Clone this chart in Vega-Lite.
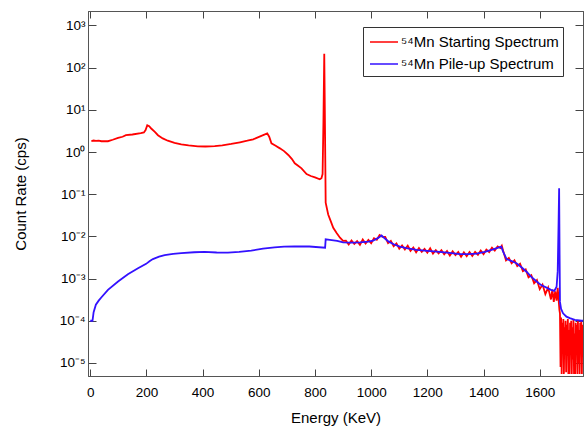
{
  "$schema": "https://vega.github.io/schema/vega-lite/v6.json",
  "width": 495,
  "height": 365,
  "autosize": "none",
  "padding": {"left": 88, "top": 11, "right": 1, "bottom": 53},
  "background": "white",
  "config": {
    "font": "Liberation Sans",
    "view": {"stroke": "#555", "strokeWidth": 1},
    "axis": {"grid": false, "domainColor": "#555", "tickColor": "#444", "labelColor": "black", "titleColor": "black", "labelFont": "Liberation Sans", "titleFont": "Liberation Sans", "titleFontWeight": "normal", "labelFontSize": 13.5, "titleFontSize": 15}
  },
  "datasets": {
    "red": [
      {"E":4,"r":1.82},{"E":12,"r":1.87},{"E":20,"r":1.83},{"E":30,"r":1.86},{"E":40,"r":1.8},{"E":63,"r":1.8},{"E":80,"r":1.95},{"E":99,"r":2.15},{"E":115,"r":2.3},{"E":127,"r":2.5},{"E":150,"r":2.6},{"E":180,"r":2.8},{"E":191,"r":2.9},{"E":197,"r":3.3},{"E":203,"r":4.3},{"E":210,"r":4.1},{"E":217,"r":3.6},{"E":230,"r":3.0},{"E":241,"r":2.5},{"E":258,"r":2.1},{"E":276,"r":1.85},{"E":300,"r":1.65},{"E":324,"r":1.52},{"E":350,"r":1.43},{"E":383,"r":1.36},{"E":410,"r":1.35},{"E":443,"r":1.38},{"E":470,"r":1.44},{"E":502,"r":1.55},{"E":533,"r":1.7},{"E":559,"r":1.85},{"E":580,"r":2.0},{"E":605,"r":2.35},{"E":630,"r":2.77},{"E":637,"r":2.3},{"E":645,"r":1.6},{"E":660,"r":1.4},{"E":675,"r":1.22},{"E":690,"r":1.05},{"E":705,"r":0.85},{"E":718,"r":0.68},{"E":728,"r":0.54},{"E":740,"r":0.47},{"E":752,"r":0.41},{"E":770,"r":0.30},{"E":785,"r":0.27},{"E":800,"r":0.25},{"E":817,"r":0.225},{"E":823,"r":0.24},{"E":827,"r":0.30},{"E":830,"r":5},{"E":833,"r":214},{"E":835,"r":10},{"E":838,"r":0.063},{"E":847,"r":0.033},{"E":855,"r":0.024},{"E":865,"r":0.016},{"E":877,"r":0.012},{"E":889,"r":0.0093},{"E":900,"r":0.0078},
      {"E":910,"r":0.0079},{"E":920,"r":0.0064},{"E":930,"r":0.0080},{"E":940,"r":0.0066},{"E":950,"r":0.0077},{"E":960,"r":0.0063},{"E":970,"r":0.0084},{"E":980,"r":0.0068},{"E":990,"r":0.00825},{"E":1000,"r":0.0069},{"E":1010,"r":0.0090},{"E":1020,"r":0.0083},{"E":1030,"r":0.0108},{"E":1040,"r":0.0098},{"E":1050,"r":0.0097},{"E":1060,"r":0.0069},{"E":1070,"r":0.0078},{"E":1080,"r":0.00585},{"E":1090,"r":0.0068},{"E":1100,"r":0.0051},{"E":1110,"r":0.0061},{"E":1120,"r":0.0049},{"E":1130,"r":0.0060},{"E":1140,"r":0.00455},{"E":1150,"r":0.00545},{"E":1160,"r":0.0042},{"E":1170,"r":0.0053},{"E":1180,"r":0.0043},{"E":1190,"r":0.00505},{"E":1200,"r":0.0041},{"E":1210,"r":0.0052},{"E":1220,"r":0.0039},{"E":1230,"r":0.0047},{"E":1240,"r":0.00395},{"E":1250,"r":0.0047},{"E":1260,"r":0.00375},{"E":1270,"r":0.0045},{"E":1280,"r":0.0035},{"E":1290,"r":0.0044},{"E":1300,"r":0.0036},{"E":1310,"r":0.00425},{"E":1320,"r":0.00327},{"E":1330,"r":0.0042},{"E":1340,"r":0.0034},{"E":1350,"r":0.00425},{"E":1360,"r":0.00345},{"E":1370,"r":0.0043},{"E":1380,"r":0.00365},{"E":1390,"r":0.0046},{"E":1400,"r":0.0038},{"E":1410,"r":0.00485},{"E":1420,"r":0.00425},{"E":1430,"r":0.0054},{"E":1440,"r":0.0046},{"E":1450,"r":0.0058},{"E":1460,"r":0.0053},{"E":1465,"r":0.0060},{"E":1470,"r":0.0045},{"E":1480,"r":0.0027},{"E":1490,"r":0.0031},{"E":1500,"r":0.0023},{"E":1510,"r":0.0027},{"E":1520,"r":0.00198},{"E":1530,"r":0.00225},{"E":1540,"r":0.0015},{"E":1550,"r":0.00165},{"E":1560,"r":0.00107},{"E":1570,"r":0.0012},{"E":1580,"r":0.00077},{"E":1590,"r":0.00092},{"E":1600,"r":0.00056},{"E":1610,"r":0.00072},{"E":1620,"r":0.00043},{"E":1630,"r":0.00061},{"E":1640,"r":0.00032},{"E":1645,"r":0.00055},{"E":1650,"r":0.00028},{"E":1655,"r":0.0005},{"E":1660,"r":0.0003},{"E":1664,"r":0.0006},{"E":1670,"r":0.00018},
      {"E":1672,"r":0.00015},{"E":1674,"r":0.000008},{"E":1676,"r":0.00012},{"E":1678,"r":0.0000055},{"E":1680,"r":0.00009},{"E":1682,"r":0.00002},{"E":1684,"r":0.00011},{"E":1686,"r":0.0000055},{"E":1688,"r":0.00007},{"E":1690,"r":0.00003},{"E":1692,"r":0.0001},{"E":1694,"r":0.000006},{"E":1696,"r":0.00008},{"E":1698,"r":0.000015},{"E":1700,"r":0.00011},{"E":1702,"r":0.0000055},{"E":1704,"r":0.00006},{"E":1706,"r":0.0000055},{"E":1708,"r":0.00009},{"E":1710,"r":0.000025},{"E":1712,"r":0.0001},{"E":1714,"r":0.0000055},{"E":1716,"r":0.00007},{"E":1718,"r":0.000012},{"E":1720,"r":0.000105},{"E":1722,"r":0.0000055},{"E":1724,"r":0.00005},{"E":1726,"r":0.0000055},{"E":1728,"r":0.00009},{"E":1730,"r":0.00002},{"E":1732,"r":0.00008},{"E":1734,"r":0.0000055},{"E":1736,"r":0.0001},{"E":1738,"r":0.00001},{"E":1740,"r":0.00006},{"E":1742,"r":0.0000055},{"E":1744,"r":0.00009},{"E":1746,"r":0.00003},{"E":1748,"r":0.0001},{"E":1750,"r":0.0000055},{"E":1752,"r":0.00008},{"E":1754,"r":0.000015}
    ],
    "blue": [
      {"E":0,"r":0.0001},{"E":8,"r":0.0001},{"E":12,"r":0.00016},{"E":20,"r":0.00024},{"E":30,"r":0.0003},{"E":40,"r":0.00036},{"E":63,"r":0.00054},{"E":99,"r":0.00085},{"E":134,"r":0.00126},{"E":170,"r":0.00175},{"E":199,"r":0.00223},{"E":212,"r":0.0026},{"E":223,"r":0.0029},{"E":245,"r":0.0033},{"E":265,"r":0.0036},{"E":295,"r":0.00385},{"E":324,"r":0.004},{"E":370,"r":0.0042},{"E":407,"r":0.0043},{"E":450,"r":0.00415},{"E":490,"r":0.0041},{"E":530,"r":0.0043},{"E":573,"r":0.0046},{"E":615,"r":0.0051},{"E":656,"r":0.0055},{"E":690,"r":0.0057},{"E":727,"r":0.0058},{"E":780,"r":0.00575},{"E":836,"r":0.0054},{"E":838,"r":0.0085},{"E":853,"r":0.0083},{"E":879,"r":0.0078},{"E":900,"r":0.0072},{"E":930,"r":0.0071},{"E":960,"r":0.0072},{"E":990,"r":0.0075},{"E":1007,"r":0.0079},{"E":1025,"r":0.0092},{"E":1037,"r":0.0105},{"E":1048,"r":0.009},{"E":1061,"r":0.0076},{"E":1080,"r":0.0065},{"E":1102,"r":0.0057},{"E":1130,"r":0.0052},{"E":1162,"r":0.0048},{"E":1200,"r":0.00455},{"E":1233,"r":0.00435},{"E":1270,"r":0.0041},{"E":1316,"r":0.0038},{"E":1345,"r":0.0038},{"E":1375,"r":0.0039},{"E":1405,"r":0.0043},{"E":1434,"r":0.0049},{"E":1455,"r":0.0055},{"E":1463,"r":0.0057},{"E":1470,"r":0.0043},{"E":1482,"r":0.0029},{"E":1500,"r":0.0026},{"E":1517,"r":0.0023},{"E":1535,"r":0.00185},{"E":1553,"r":0.00145},{"E":1570,"r":0.0011},{"E":1589,"r":0.00085},{"E":1605,"r":0.0007},{"E":1624,"r":0.00061},{"E":1640,"r":0.00054},{"E":1652,"r":0.00051},{"E":1660,"r":0.00064},{"E":1664,"r":0.0015},{"E":1667,"r":0.02},{"E":1669,"r":0.138},{"E":1670.5,"r":0.005},{"E":1672,"r":0.00028},{"E":1676,"r":0.00019},{"E":1683,"r":0.00015},{"E":1695,"r":0.000125},{"E":1707,"r":0.000115},{"E":1725,"r":0.000105},{"E":1749,"r":0.0001},{"E":1754,"r":0.0001}
    ]
  },
  "resolve": {"axis": {"x": "independent", "y": "independent"}},
  "layer": [
    {
      "data": {"name": "red"},
      "mark": {"type": "line", "strokeWidth": 1.8, "clip": true, "interpolate": "linear"},
      "encoding": {
        "x": {"field": "E", "type": "quantitative", "scale": {"domain": [-8, 1754], "nice": false, "zero": false},
          "axis": {"orient": "bottom", "title": "Energy (KeV)", "format": "d", "values": [0,200,400,600,800,1000,1200,1400,1600], "tickSize": -7, "labelPadding": 16, "titleY": 46, "titleBaseline": "alphabetic", "labelFlush": false}},
        "y": {"field": "r", "type": "quantitative", "scale": {"type": "log", "domain": [0.0000049, 2200], "nice": false},
          "axis": {"orient": "left", "title": "Count Rate (cps)", "values": [0.00001,0.0001,0.001,0.01,0.1,1,10,100,1000], "tickSize": -8, "labelPadding": 11, "titleX": -60, "titleY": 182.5, "titleBaseline": "bottom", "titleAngle": -90, "titleAlign": "center",
            "labelExpr": "datum.value > 500 ? '10³' : datum.value > 50 ? '10²' : datum.value > 5 ? '10¹' : datum.value > 0.5 ? '10⁰' : datum.value > 0.05 ? '10⁻¹' : datum.value > 0.005 ? '10⁻²' : datum.value > 0.0005 ? '10⁻³' : datum.value > 0.00005 ? '10⁻⁴' : '10⁻⁵'"}},
        "color": {"datum": "⁵⁴Mn Starting Spectrum", "type": "nominal",
          "scale": {"domain": ["⁵⁴Mn Starting Spectrum", "⁵⁴Mn Pile-up Spectrum"], "range": ["#ff0000", "#3311ff"]},
          "legend": {"title": null, "orient": "none", "legendX": 275, "legendY": 16, "strokeColor": "#333", "fillColor": "white", "padding": 4, "symbolType": "M-1.4,0H1.4", "symbolSize": 400, "symbolStrokeWidth": 1.5, "symbolOffset": 6, "labelOffset": 6, "labelFontSize": 15, "labelFont": "Liberation Sans", "labelLimit": 300, "rowPadding": 3, "labelColor": "black"}}
      }
    },
    {
      "data": {"name": "blue"},
      "mark": {"type": "line", "strokeWidth": 1.8, "clip": true},
      "encoding": {
        "x": {"field": "E", "type": "quantitative", "scale": {"domain": [-8, 1754], "nice": false, "zero": false},
          "axis": {"orient": "top", "title": null, "values": [0,200,400,600,800,1000,1200,1400,1600], "tickSize": -7, "labels": false}},
        "y": {"field": "r", "type": "quantitative", "scale": {"type": "log", "domain": [0.0000049, 2200], "nice": false},
          "axis": {"orient": "right", "title": null, "values": [0.00001,0.0001,0.001,0.01,0.1,1,10,100,1000], "tickSize": -8, "labels": false}},
        "color": {"datum": "⁵⁴Mn Pile-up Spectrum", "type": "nominal"}
      }
    }
  ]
}
